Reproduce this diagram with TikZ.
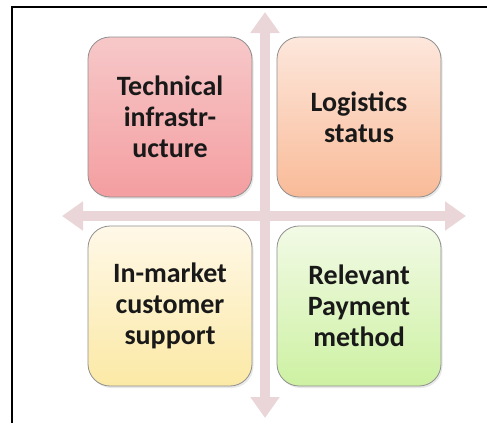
\documentclass[tikz,border=0pt]{standalone}
\usepackage{fontspec}
\setmainfont{Carlito}
\usetikzlibrary{arrows.meta,shadows}
\definecolor{crossc}{HTML}{EAD6D9}
\definecolor{boxline}{HTML}{8F8F8F}
\begin{document}
\begin{tikzpicture}[x=1pt,y=-1pt,
    quad/.style={draw=boxline, line width=0.8pt, rounded corners=22pt,
      minimum width=164pt, minimum height=160pt, align=center,
      font=\fontsize{28}{31}\selectfont\bfseries, text=black!90,
      drop shadow={opacity=0.18, shadow xshift=1.5pt, shadow yshift=-2pt}},
    bigtip/.tip={Triangle[length=21pt,width=28pt]}]
  \useasboundingbox (0,0) rectangle (487,423);
  \draw[line width=1.6pt] (12,423) -- (12,7) -- (487,7);
  % the cross behind the four boxes
  \coordinate (up) at (265,12);
  \coordinate (down) at (265,418);
  \coordinate (left) at (62,216);
  \coordinate (right) at (466,216);
  \draw[crossc, line width=10pt, bigtip-bigtip] (up) -- (down);
  \draw[crossc, line width=10pt, bigtip-bigtip] (left) -- (right);
  % the four quadrants
  \node[quad, top color={rgb,255:red,247;green,200;blue,201}, bottom color={rgb,255:red,244;green,158;blue,160}]
    (tech) at (170,117) {Technical\\infrastr-\\ucture};
  \node[quad, top color={rgb,255:red,253;green,231;blue,220}, bottom color={rgb,255:red,249;green,187;blue,152}]
    (logi) at (359,117) {Logistics\\status};
  \node[quad, top color={rgb,255:red,255;green,248;blue,232}, bottom color={rgb,255:red,251;green,233;blue,165}]
    (supp) at (170,306) {In-market\\customer\\support};
  \node[quad, top color={rgb,255:red,242;green,250;blue,230}, bottom color={rgb,255:red,205;green,241;blue,162}]
    (pay) at (359,306) {Relevant\\Payment\\method};
\end{tikzpicture}
\end{document}
